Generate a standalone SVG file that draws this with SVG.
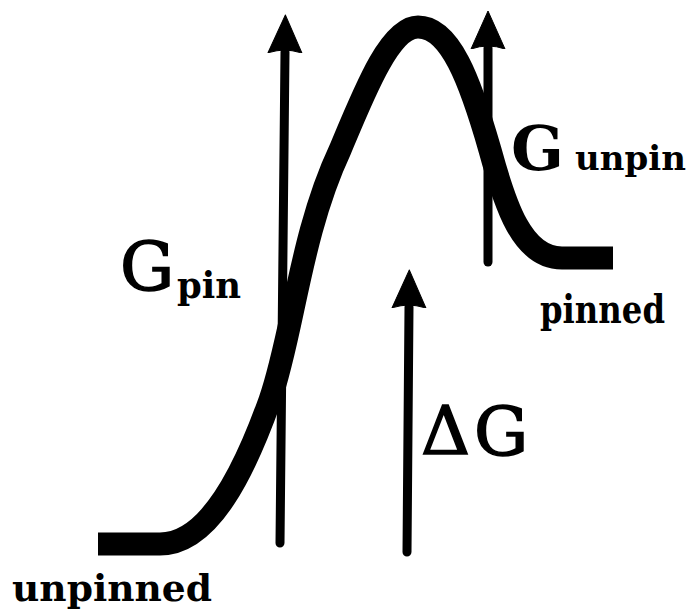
<svg xmlns="http://www.w3.org/2000/svg" width="694" height="615" viewBox="0 0 694 615">
<style>
.curve{fill:none;stroke:#000;stroke-width:23;stroke-linejoin:round}
.arr{fill:none;stroke:#000;stroke-width:9;stroke-linecap:round}
.t{font-family:"DejaVu Serif","Liberation Serif",serif;fill:#000}
.b{font-weight:bold}
.big{font-size:68px;stroke:#000;stroke-width:1.5}
.sm{font-size:37px;font-weight:bold}
</style>
<defs>
<marker id="head" markerUnits="userSpaceOnUse" markerWidth="40" markerHeight="40" viewBox="0 -18 40 36" refX="1" refY="0" orient="auto">
<path d="M0,-17 L38,0 L0,17 Q6,0 0,-17 Z" fill="#000" stroke="#000" stroke-width="1" stroke-linejoin="round"/>
</marker>
</defs>
<rect width="694" height="615" fill="#fff"/>
<g id="barrier">
<path class="curve" d="M98,544 L160,544 C210,544 245,470 270,400 C293,335 300,235 340,150 C365,90 390,27 418,27 C450,27 470,80 490,150 C505,205 522,258 562,258 L613,258"/>
</g>
<g id="connectors">
<line class="arr" x1="280" y1="543" x2="285" y2="52" marker-end="url(#head)"/>
<line class="arr" x1="488" y1="262" x2="488" y2="48" marker-end="url(#head)"/>
<line class="arr" x1="407" y1="552" x2="409" y2="307" marker-end="url(#head)"/>
</g>
<g id="label-gpin">
<text class="t big" x="120" y="290">G</text>
<text class="t sm" x="177" y="298" textLength="64" lengthAdjust="spacingAndGlyphs">pin</text>
</g>
<g id="label-gunpin">
<text class="t b" x="511" y="170" style="font-size:62px">G</text>
<text class="t sm" x="575" y="170" style="font-size:34px">unpin</text>
</g>
<g id="label-dg">
<text class="t big" x="421" y="454">Δ</text>
<text class="t big" x="474" y="455">G</text>
</g>
<g id="label-pinned">
<text class="t sm" x="540" y="323" style="font-size:39px" textLength="125" lengthAdjust="spacingAndGlyphs">pinned</text>
</g>
<g id="label-unpinned">
<text class="t sm" x="12" y="601" textLength="200" lengthAdjust="spacingAndGlyphs">unpinned</text>
</g>
</svg>
